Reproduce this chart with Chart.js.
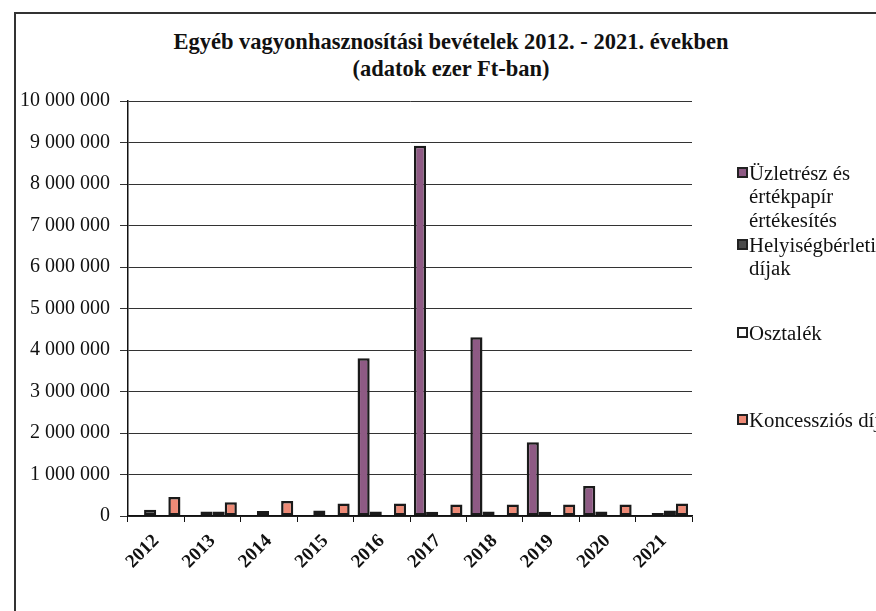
<!DOCTYPE html>
<html>
<head>
<meta charset="utf-8">
<script src="https://cdn.jsdelivr.net/npm/chart.js@4"></script>
<style>
  html, body { margin:0; padding:0; background:#fff; }
  #wrap { position:relative; width:876px; height:611px; overflow:hidden; font-family:'Liberation Serif', 'Times New Roman', serif; }
  #frame { position:absolute; left:14px; top:12px; width:900px; height:700px; border-left:2px solid #333; border-top:2px solid #333; }
  #title { position:absolute; left:100px; width:702px; top:28px; text-align:center; font-weight:bold; font-size:22.5px; line-height:27px; color:#111; }
  #chart { position:absolute; left:0; top:0; }
  .leg { position:absolute; left:736px; font-size:20.8px; line-height:23.3px; color:#111; }
  .leg i { position:absolute; left:1px; top:6px; width:7px; height:7px; border:2.5px solid #222; }
  .leg span { display:block; padding-left:13px; white-space:nowrap; }
</style>
</head>
<body>
<div id="wrap">
  <div id="frame"></div>
  <div id="title">Egyéb vagyonhasznosítási bevételek 2012. - 2021. években<br>(adatok ezer Ft-ban)</div>
  <canvas id="chart" width="876" height="611"></canvas>
  <div id="legend"></div>
</div>
<script>
const years = ['2012','2013','2014','2015','2016','2017','2018','2019','2020','2021'];
const seriesNames = [['Üzletrész és','értékpapír','értékesítés'], ['Helyiségbérleti','díjak'], ['Osztalék'], ['Koncessziós díj']];
const uzletresz  = [0, 0, 0, 0, 3800000, 8920000, 4310000, 1780000, 720000, 0];
const helyiseg   = [150000, 110000, 120000, 130000, 110000, 100000, 110000, 100000, 110000, 70000];
const osztalek   = [0, 110000, 0, 0, 0, 0, 0, 0, 0, 130000];
const koncesszio = [460000, 330000, 360000, 300000, 300000, 280000, 280000, 280000, 280000, 300000];
const yTicks = [0,1000000,2000000,3000000,4000000,5000000,6000000,7000000,8000000,9000000,10000000];

const colors = ['#8e5a84', '#4a4a4a', '#ffffff', '#ee8a76'];
const legendTops = [161, 233, 321, 408];
const serif = "'Liberation Serif', 'Times New Roman', serif";

const fmt = v => String(v).replace(/\B(?=(\d{3})+(?!\d))/g, ' ');

// legend
const leg = document.getElementById('legend');
seriesNames.forEach((lines, i) => {
  const d = document.createElement('div');
  d.className = 'leg';
  d.style.top = legendTops[i] + 'px';
  d.innerHTML = `<i style="background:${colors[i]}"></i>` + lines.map(l => `<span>${l}</span>`).join('');
  leg.appendChild(d);
});

const mk = (i, data) => ({
  label: seriesNames[i].join(' '), data,
  backgroundColor: colors[i], borderColor: '#1a1a1a', borderWidth: 2.5,
  barPercentage: 1, categoryPercentage: 0.86, borderSkipped: false
});

new Chart(document.getElementById('chart'), {
  type: 'bar',
  data: { labels: years, datasets: [mk(0, uzletresz), mk(1, helyiseg), mk(2, osztalek), mk(3, koncesszio)] },
  options: {
    responsive: false, animation: false,
    layout: { padding: { left: 14, right: 184, top: 101, bottom: 0 } },
    plugins: { legend: { display: false }, title: { display: false }, tooltip: { enabled: false } },
    scales: {
      x: {
        grid: { offset: true, drawOnChartArea: false, tickLength: 6, color: '#111' },
        border: { color: '#111', width: 1.5 },
        ticks: { minRotation: 45, maxRotation: 45, color: '#111', padding: 8,
                 font: { family: serif, size: 19, weight: 'bold' } },
        afterFit: s => { s.height = 95; }
      },
      y: {
        min: 0, max: 10000000,
        afterBuildTicks: s => { s.ticks = yTicks.map(v => ({ value: v })); },
        grid: { color: '#333', lineWidth: 1, tickLength: 8 },
        border: { color: '#111', width: 1.5 },
        ticks: { color: '#111', padding: 10, callback: v => fmt(v),
                 font: { family: serif, size: 20 } },
        afterFit: s => { s.width = 114; }
      }
    }
  }
});
</script>
</body>
</html>
